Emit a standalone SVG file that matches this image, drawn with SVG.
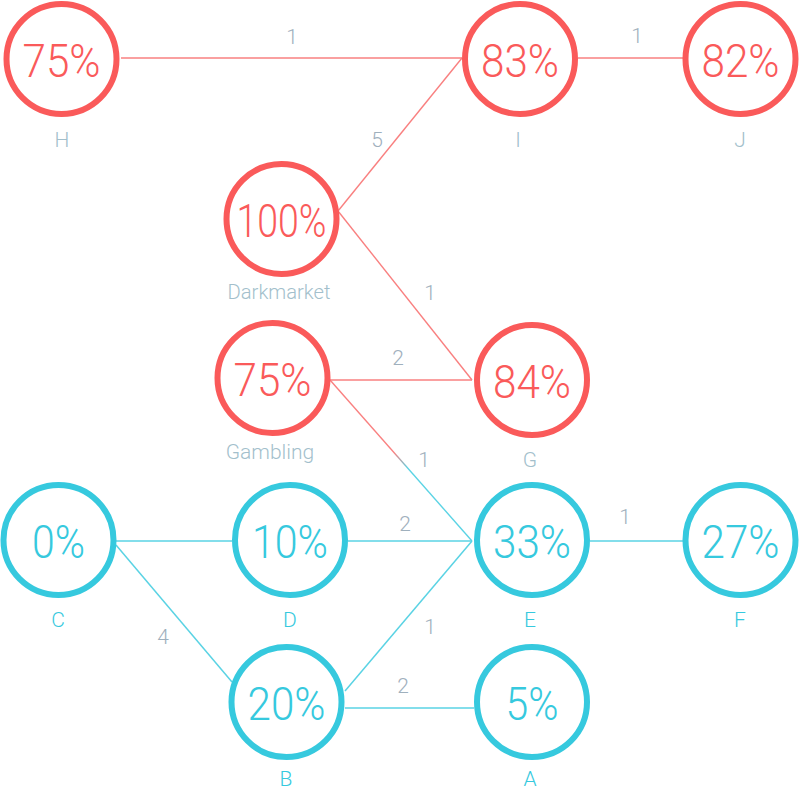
<svg xmlns="http://www.w3.org/2000/svg" width="800" height="791" viewBox="0 0 800 791">
<style>
.bg{fill:#ffffff}
.nr{fill:none;stroke:#fa5a5a;stroke-width:6}
.nc{fill:none;stroke:#36c9de;stroke-width:6}
.pr{font-family:Roboto,"Open Sans",sans-serif;font-weight:300;font-size:47px;fill:#fa5a5a;text-anchor:middle}
.pc{font-family:Roboto,"Open Sans",sans-serif;font-weight:300;font-size:47px;fill:#36c9de;text-anchor:middle}
.lg{font-family:Roboto,"Open Sans",sans-serif;font-weight:300;font-size:21px;fill:#a3bfcc;text-anchor:middle}
.lc{font-family:Roboto,"Open Sans",sans-serif;font-weight:300;font-size:21px;fill:#36c9de;text-anchor:middle}
.el{font-family:Roboto,"Open Sans",sans-serif;font-weight:300;font-size:21px;fill:#9fb0bd;text-anchor:middle}
.er{fill:none;stroke:#f98080;stroke-width:1.4}
.ec{fill:none;stroke:#5ad3e4;stroke-width:1.5}
</style>
<defs>
<linearGradient id="gE" gradientUnits="userSpaceOnUse" x1="330" y1="380" x2="472" y2="541">
<stop offset="0" stop-color="#f98080"/>
<stop offset="0.45" stop-color="#f98080"/>
<stop offset="0.55" stop-color="#5ad3e4"/>
<stop offset="1" stop-color="#5ad3e4"/>
</linearGradient>
</defs>
<rect class="bg" x="0" y="0" width="800" height="791"/>
<g id="connectors">
<line class="er" x1="121" y1="58" x2="462" y2="58"/>
<line class="er" x1="578" y1="58" x2="683" y2="58"/>
<line class="er" x1="338" y1="211" x2="462" y2="58"/>
<line class="er" x1="338" y1="211" x2="472" y2="380"/>
<line class="er" x1="330" y1="380" x2="472" y2="380"/>
<line x1="330" y1="380" x2="472" y2="541" stroke="url(#gE)" stroke-width="1.4"/>
<line class="ec" x1="116" y1="541" x2="232" y2="541"/>
<line class="ec" x1="116" y1="545" x2="232" y2="682"/>
<line class="ec" x1="348" y1="541" x2="472" y2="541"/>
<line class="ec" x1="590" y1="541" x2="683" y2="541"/>
<line class="ec" x1="345" y1="691" x2="472" y2="541"/>
<line class="ec" x1="345" y1="708" x2="474" y2="708"/>
<text class="el" x="292" y="44">1</text>
<text class="el" x="637" y="43">1</text>
<text class="el" x="377" y="147">5</text>
<text class="el" x="430" y="300">1</text>
<text class="el" x="398" y="365">2</text>
<text class="el" x="424" y="467">1</text>
<text class="el" x="405" y="531">2</text>
<text class="el" x="625" y="524">1</text>
<text class="el" x="163" y="644">4</text>
<text class="el" x="430" y="634">1</text>
<text class="el" x="403" y="693">2</text>
</g>
<g id="H"><circle class="nr" cx="61.5" cy="59" r="55"/><text class="pr" x="61.5" y="77" textLength="78" lengthAdjust="spacingAndGlyphs">75%</text><text class="lg" x="62" y="147">H</text></g>
<g id="I"><circle class="nr" cx="520" cy="59" r="55"/><text class="pr" x="520" y="77" textLength="78" lengthAdjust="spacingAndGlyphs">83%</text><text class="lg" x="518" y="147">I</text></g>
<g id="J"><circle class="nr" cx="740.5" cy="59" r="55"/><text class="pr" x="740.5" y="77" textLength="78" lengthAdjust="spacingAndGlyphs">82%</text><text class="lg" x="740" y="147">J</text></g>
<g id="Darkmarket"><circle class="nr" cx="281.5" cy="219" r="55"/><text class="pr" x="281.5" y="237" textLength="90" lengthAdjust="spacingAndGlyphs">100%</text><text class="lg" x="279" y="299" textLength="103" lengthAdjust="spacingAndGlyphs">Darkmarket</text></g>
<g id="Gambling"><circle class="nr" cx="272.5" cy="378" r="55"/><text class="pr" x="272.5" y="396" textLength="78" lengthAdjust="spacingAndGlyphs">75%</text><text class="lg" x="270" y="459">Gambling</text></g>
<g id="G"><circle class="nr" cx="532" cy="380" r="55"/><text class="pr" x="532" y="398" textLength="78" lengthAdjust="spacingAndGlyphs">84%</text><text class="lg" x="530" y="467">G</text></g>
<g id="C"><circle class="nc" cx="58.5" cy="540" r="55"/><text class="pc" x="58.5" y="558" textLength="53" lengthAdjust="spacingAndGlyphs">0%</text><text class="lc" x="58" y="627">C</text></g>
<g id="D"><circle class="nc" cx="290" cy="540" r="55"/><text class="pc" x="290" y="558" textLength="76" lengthAdjust="spacingAndGlyphs">10%</text><text class="lc" x="290" y="627">D</text></g>
<g id="E"><circle class="nc" cx="532" cy="540" r="55"/><text class="pc" x="532" y="558" textLength="78" lengthAdjust="spacingAndGlyphs">33%</text><text class="lc" x="530" y="627">E</text></g>
<g id="F"><circle class="nc" cx="740.5" cy="540" r="55"/><text class="pc" x="740.5" y="558" textLength="78" lengthAdjust="spacingAndGlyphs">27%</text><text class="lc" x="740" y="627">F</text></g>
<g id="B"><circle class="nc" cx="286.5" cy="702" r="55"/><text class="pc" x="286.5" y="720" textLength="78" lengthAdjust="spacingAndGlyphs">20%</text><text class="lc" x="286" y="786">B</text></g>
<g id="A"><circle class="nc" cx="532" cy="702" r="55"/><text class="pc" x="532" y="720" textLength="53" lengthAdjust="spacingAndGlyphs">5%</text><text class="lc" x="530" y="786">A</text></g>
</svg>
